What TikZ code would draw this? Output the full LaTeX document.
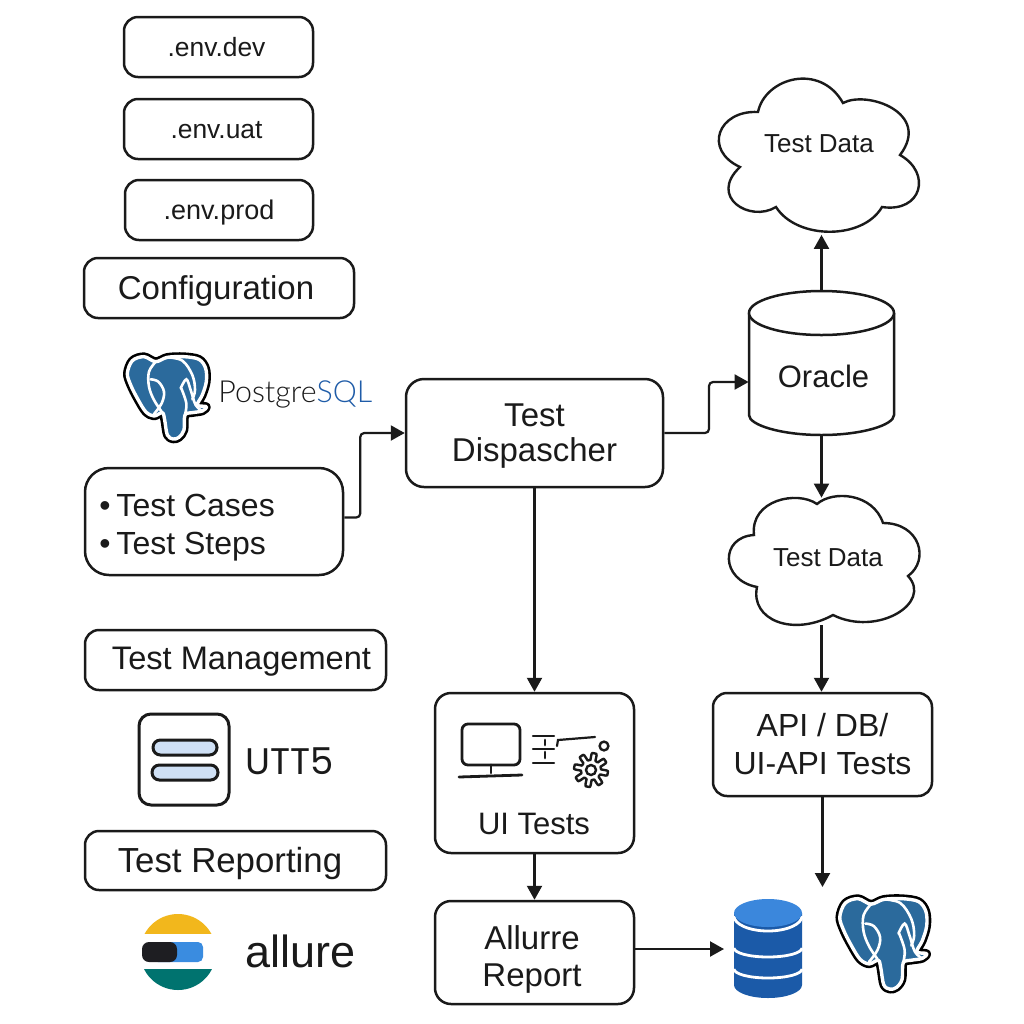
\documentclass[tikz,border=0pt]{standalone}
\usepackage{fontspec}
\setmainfont{Liberation Sans}
\newfontfamily\lightfont{Lato Light}
\newfontfamily\utfont{Poppins}
\usetikzlibrary{arrows.meta}
\definecolor{pgblue}{HTML}{2B6A9C}
\definecolor{ink}{HTML}{1A1A1A}
\definecolor{sqlblue}{HTML}{1F5CA8}
\definecolor{dbtop}{HTML}{3B87DC}
\definecolor{dbbody}{HTML}{1B5AA8}
\definecolor{alyellow}{HTML}{F2B71C}
\definecolor{alteal}{HTML}{00736F}
\definecolor{alblue}{HTML}{3A8CE0}
\definecolor{albar}{HTML}{1E1E22}
\definecolor{uttfill}{HTML}{CFE0F5}
\newcommand\fsz[2]{\fontsize{#1}{#2}\selectfont}
\newcommand\lowr[2]{\raisebox{-#1}[\height][\depth]{#2}}
\newcommand\pgelephant{%
 \def\outl{plot[smooth cycle,tension=0.55] coordinates{(85,100)(100,62)(135,50)(170,65)(205,52)(255,50)(300,58)(320,85)(322,125)(310,165)(295,195)(322,200)(310,213)(280,218)(258,225)(255,270)(240,292)(222,297)(205,285)(197,240)(190,218)(165,228)(140,215)(115,175)(95,135)}}%
 \draw[black,line width=4.3pt,line join=round] \outl;
 \draw[white,fill=pgblue,line width=1.7pt,line join=round] \outl;
 \draw[white,line width=1.3pt,line cap=round] plot[smooth,tension=0.6] coordinates{(172,63)(150,95)(150,140)(165,180)(188,215)};
 \draw[white,line width=1.3pt,line cap=round] plot[smooth,tension=0.6] coordinates{(155,118)(178,125)(195,155)(188,190)(165,222)};
 \draw[white,line width=1.3pt,line cap=round] plot[smooth,tension=0.6] coordinates{(205,52)(250,62)(280,105)(288,150)(280,178)};
 \draw[white,line width=1.3pt,line cap=round] plot[smooth,tension=0.6] coordinates{(245,145)(262,118)(275,150)(290,195)(310,213)};
 \draw[white,line width=1.3pt,line cap=round] plot[smooth,tension=0.6] coordinates{(247,145)(262,190)(258,224)};
}
\tikzset{
 box/.style={draw=ink,line width=1.25pt,rounded corners=#1,inner sep=0pt,align=center,text=ink},
 box/.default=7pt,
 lbl/.style={inner sep=0pt,text=ink,align=center},
 conn/.style={draw=ink,line width=1.1pt,-{Triangle[length=7pt,width=7.5pt]}},
 elbow/.style={conn,rounded corners=2pt},
 ghost/.style={inner sep=0pt,minimum width=#1},
 cloudline/.style={draw=ink,line width=1.2pt,fill=white},
}
\begin{document}
\begin{tikzpicture}[x=0.5pt,y=-0.5pt]
\useasboundingbox (0,0) rectangle (1024,1024);
\fill[white] (0,0) rectangle (1024,1024);
% left column
\node[box,minimum width=94.5pt,minimum height=30pt,font=\fsz{13.2}{15}] (dev) at (218.5,47) {\kern-2pt.env.dev};
\node[box,minimum width=94.5pt,minimum height=30pt,font=\fsz{13.2}{15}] (uat) at (218.5,129) {\kern-2pt\lowr{0.5pt}{.env.uat}};
\node[box,minimum width=94pt,minimum height=30pt,font=\fsz{13.5}{15}] (prod) at (219,210) {\lowr{1.5pt}{.env.prod}};
\node[box,minimum width=135pt,minimum height=30pt,font=\fsz{16.5}{19}] (config) at (219,288) {\lowr{1.5pt}{Configuration}\kern3pt};
\begin{scope}[shift={(99,340)},scale=1/3] \pgelephant \end{scope}
\node[lbl,font=\lightfont\fsz{15.2}{17},anchor=west] (pgt) at (218,394) {Postgre\textcolor{sqlblue}{SQL}};
\node[box=12pt,minimum width=129pt,minimum height=53.5pt] (cases) at (214,521.5) {};
\node[lbl,align=left,anchor=west,font=\fsz{16}{19}] (caseslbl) at (99,527.5) {•\kern-1.5pt{} Test Cases\\•\kern-1.5pt{} Test Steps};
\node[box,minimum width=150.5pt,minimum height=30pt,font=\fsz{16.3}{18}] (mgmt) at (235.5,660) {\kern6pt\lowr{1pt}{Test Management}};
% UTT logo
\draw[ink,line width=1.5pt,rounded corners=6pt] (139,714) rectangle (229,805);
\draw[ink,fill=uttfill,line width=1.5pt,rounded corners=3.7pt] (153,740) rectangle (217,755);
\draw[ink,fill=uttfill,line width=1.5pt,rounded corners=3.7pt] (152,765) rectangle (218,780);
\node[lbl,font=\utfont\fsz{18.5}{20},anchor=west] (utts) at (245,761) {UTT5};
\node[box,minimum width=150.5pt,minimum height=29.5pt,font=\fsz{17.4}{19}] (report) at (235.5,860.5) {\lowr{1.5pt}{Test Reporting}\kern5.5pt};
% Allure logo
\begin{scope}
 \clip (178,952) circle (19pt);
 \fill[alyellow] (130,905) rectangle (230,934);
 \fill[alteal] (130,969) rectangle (230,1000);
\end{scope}
\fill[alblue,rounded corners=2.5pt] (153,942) rectangle (203,962);
\fill[albar,rounded corners=3.5pt] (142,942) rectangle (177,962);
\node[lbl,font=\fsz{22.5}{25},anchor=west] (allure) at (245,951) {allure};
% centre column
\node[box=9pt,minimum width=128.5pt,minimum height=54pt] (disp) at (534.5,433) {};
\node[lbl,font=\fsz{16.5}{17.5}] (displbl) at (534.5,436) {Test\\Dispascher};
\node[box=8pt,minimum width=99.5pt,minimum height=80pt] (ui) at (534.5,773) {};
\node[lbl,font=\fsz{15.5}{18}] (uilbl) at (534,824) {UI Tests};
\node[box=8pt,minimum width=99.5pt,minimum height=51.5pt] (allrep) at (534.5,952.5) {};
\node[lbl,font=\fsz{16.5}{18.5}] (allreplbl) at (532,959) {Allurre\\Report};
% UI icon
\begin{scope}[ink,line cap=round]
 \draw[line width=1.4pt,rounded corners=3pt] (462,724) rectangle (520,765);
 \draw[line width=1.4pt] (491,765) -- (491,773);
 \draw[line width=1.4pt] (459,777) -- (522,775);
 \foreach \yy in {736,749,763} \draw[line width=1.2pt] (533,\yy) -- (554,\yy);
 \draw[line width=1.4pt] (545,740) -- (545,745) (545,752) -- (545,758);
 \draw[line width=1.1pt] (557,746) -- (558,740) -- (595,737);
 \draw[line width=1.2pt] (604,746) circle (2.2pt);
 \draw[line width=1.2pt,line join=round] plot[domain=0:360,samples=193] ({591+(13.5+3.5*min(1,max(-1,2.5*sin(8*\x))))*cos(\x)},{770+(13.5+3.5*min(1,max(-1,2.5*sin(8*\x))))*sin(\x)}) -- cycle;
 \draw[line width=1.2pt] (591,770) circle (2.5pt);
\end{scope}
% right column: cloud 1
\draw[cloudline] (758,112) .. controls (765,78) and (820,62) .. (843,103)
 .. controls (867,90) and (932,113) .. (900,155)
 .. controls (932,173) and (922,213) .. (882,207)
 .. controls (863,240) and (797,240) .. (776,207)
 .. controls (750,223) and (708,197) .. (740,167)
 .. controls (703,150) and (718,110) .. (758,112) -- cycle;
\node[ghost=101pt,minimum height=78.5pt] (c1) at (819,156) {};
\node[lbl,font=\fsz{13}{15}] (c1lbl) at (819,144) {Test Data};
% Oracle
\node[ghost=72.5pt,minimum height=72pt] (oracle) at (821.5,363) {};
\draw[ink,line width=1.25pt,fill=white,rounded corners=1pt] (749,313) -- (749,413) arc[start angle=180,end angle=0,x radius=72.5,y radius=22] -- (894,313);
\draw[ink,line width=1.25pt,fill=white] (821.5,313) ellipse (36.25pt and 11pt);
\node[lbl,font=\fsz{15.5}{18}] (oralbl) at (823.5,376) {Oracle};
% cloud 2
\draw[cloudline] (817,504) .. controls (833,490) and (873,493) .. (883,523)
 .. controls (920,523) and (930,560) .. (908,576)
 .. controls (933,603) and (877,637) .. (833,615)
 .. controls (793,637) and (750,620) .. (757,587)
 .. controls (720,580) and (720,537) .. (754,535)
 .. controls (750,500) and (797,490) .. (817,504) -- cycle;
\node[ghost=93.5pt,minimum height=63.5pt] (c2) at (823.5,561.5) {};
\node[lbl,font=\fsz{13}{15}] (c2lbl) at (828,558) {Test Data};
\node[box=7pt,minimum width=109.5pt,minimum height=51.5pt,font=\fsz{16}{19}] (api) at (822.5,744.5) {API / DB/\\UI-API Tests};
\coordinate (apiend) at (822.5,887);
% DB icon
\coordinate (dbin) at (724,949);
\fill[dbbody] (734,913) -- (734,985) arc[start angle=180,end angle=0,x radius=34,y radius=13] -- (802,913) -- cycle;
\draw[white,line width=1.4pt] (734,916) arc[start angle=180,end angle=0,x radius=34,y radius=15];
\draw[white,line width=1.4pt] (734,948) arc[start angle=180,end angle=0,x radius=34,y radius=9];
\draw[white,line width=1.4pt] (734,969) arc[start angle=180,end angle=0,x radius=34,y radius=9];
\fill[dbtop] (768,913) ellipse (17pt and 7pt);
\begin{scope}[shift={(808.6,880.3)},scale=1.1/3] \pgelephant \end{scope}
% connectors
\draw[elbow] ([yshift=2pt]cases.east) -- ++(16,0) |- (disp.west);
\draw[elbow] (disp.east) -- (709,433) |- ([yshift=-9.5pt]oracle.west);
\draw[conn] (oracle.north) -- (oracle.north |- c1.south);
\draw[conn] (oracle.south) -- (oracle.south |- c2.north);
\draw[conn] (oracle.south |- c2.south) -- (oracle.south |- api.north);
\draw[conn] (api.south) -- (apiend);
\draw[conn] (disp.south) -- (ui.north);
\draw[conn] (ui.south) -- (allrep.north);
\draw[conn] ([yshift=1.75pt]allrep.east) -- (dbin);
\end{tikzpicture}
\end{document}
